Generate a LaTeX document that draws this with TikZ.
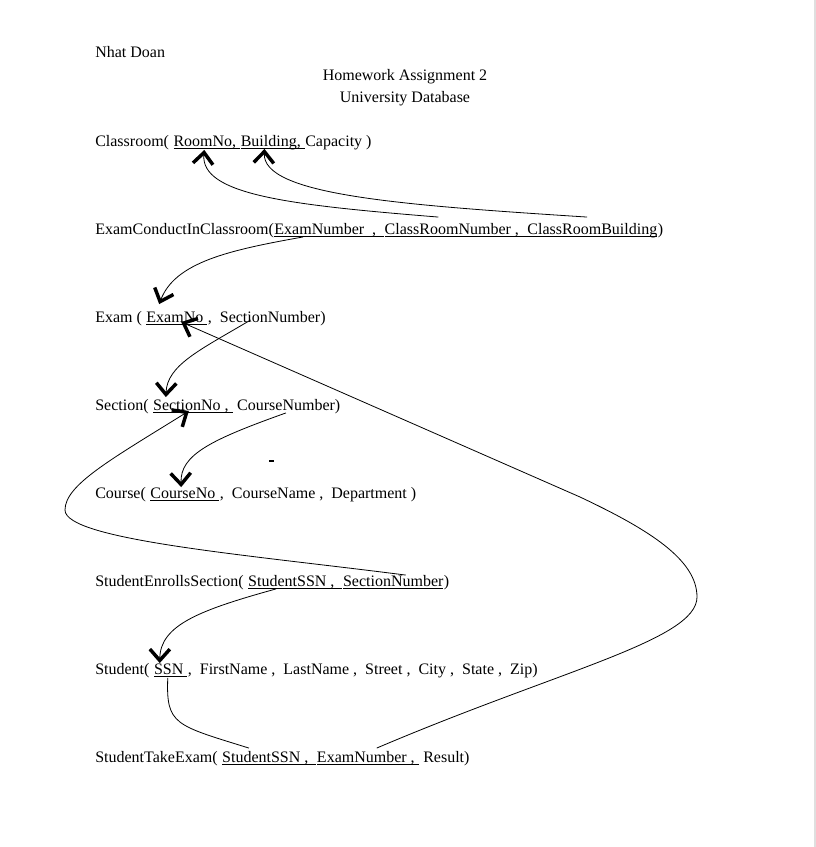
\documentclass[tikz,border=0pt]{standalone}
\usepackage{fontspec}
\setmainfont{Liberation Serif}
\usetikzlibrary{positioning,calc,arrows.meta}
\newcommand{\keyu}[1]{\underline{\raisebox{0pt}[\height][0pt]{#1}}}
\tikzset{
    node style rel/.style={inner sep=0pt,text height=8pt,text depth=2pt},
    arrow style fk/.style={-{Straight Barb[length=8.5pt,width=15pt,line width=2.6pt]},line width=0.6pt},
    line style fk/.style={line width=0.6pt},
}

\begin{document}
\begin{tikzpicture}[x=0.75pt,y=-0.75pt,font=\fontsize{12}{14}\selectfont]
\useasboundingbox (0,0) rectangle (816,847);
\draw[gray!25,line width=1.5pt] (814.5,0) -- (814.5,847);
% en-tete
\node[node style rel,anchor=base west] (author) at (95,57) {Nhat Doan};
\node[node style rel,anchor=base] (title) at (405,80) {Homework Assignment 2};
\node[node style rel,anchor=base] (subtitle) at (405,102) {University Database};
% les relations
\node[node style rel,anchor=base west] (classroom) at (95,146) {Classroom(~\null};
\node[node style rel,base right=0pt of classroom] (roomno) {\keyu{RoomNo,~}};
\node[node style rel,base right=0pt of roomno] (building) {\keyu{Building,~}};
\node[node style rel,base right=0pt of building] (capacity) {Capacity~)};

\node[node style rel,anchor=base west] (ecic) at (95,234) {ExamConductInClassroom(};
\node[node style rel,base right=0pt of ecic] (ecexam) {\keyu{ExamNumber~~,~~}};
\node[node style rel,base right=0pt of ecexam] (ecroom) {\keyu{ClassRoomNumber~,~~}};
\node[node style rel,base right=0pt of ecroom] (ecbldg) {\keyu{ClassRoomBuilding}};
\node[node style rel,base right=0pt of ecbldg] (ecend) {)};

\node[node style rel,anchor=base west] (exam) at (95,322) {Exam~(~\null};
\node[node style rel,base right=0pt of exam] (examno) {\keyu{ExamNo~}};
\node[node style rel,base right=0pt of examno] (examsec) {,~~SectionNumber)};

\node[node style rel,anchor=base west] (section) at (95,410) {Section(~\null};
\node[node style rel,base right=0pt of section] (secno) {\keyu{SectionNo~,~}};
\node[node style rel,base right=0pt of secno] (seccn) {~CourseNumber)};

\node[node style rel,anchor=base west] (course) at (95,498) {Course(~\null};
\node[node style rel,base right=0pt of course] (courseno) {\keyu{CourseNo~}};
\node[node style rel,base right=0pt of courseno] (coursert) {,~~CourseName~,~~Department~)};

\node[node style rel,anchor=base west] (ses) at (95,586) {StudentEnrollsSection(~\null};
\node[node style rel,base right=0pt of ses] (sesssn) {\keyu{StudentSSN~,~~}};
\node[node style rel,base right=0pt of sesssn] (sesnum) {\keyu{SectionNumber}};
\node[node style rel,base right=0pt of sesnum] (sesend) {)};

\node[node style rel,anchor=base west] (student) at (95,674) {Student(~\null};
\node[node style rel,base right=0pt of student] (ssn) {\keyu{SSN~}};
\node[node style rel,base right=0pt of ssn] (studentrt)
{,~~FirstName~,~~LastName~,~~Street~,~~City~,~~State~,~~Zip)};

\node[node style rel,anchor=base west] (ste) at (95,762) {StudentTakeExam(~\null};
\node[node style rel,base right=0pt of ste] (stessn) {\keyu{StudentSSN~,~~}};
\node[node style rel,base right=0pt of stessn] (steexam) {\keyu{ExamNumber~,~}};
\node[node style rel,base right=0pt of steexam] (sterst) {~Result)};
% les fleches
\draw[arrow style fk] ($(ecroom.north west)+(54,-6)$)
  .. controls (290,205) and (200,195) .. ($(roomno.south west)+(31,1)$);
\draw[arrow style fk] ($(ecbldg.north west)+(60,-6)$)
  .. controls (400,205) and (262,195) .. ($(building.south west)+(24,0)$);
\draw[arrow style fk] ($(ecexam.south west)+(29,0)$)
  .. controls (230,250) and (175,262) .. ($(examno.north west)+(13,-7)$);
\draw[arrow style fk] ($(examsec.base west)+(43,-2)$)
  .. controls (200,350) and (167,365) .. ($(secno.north west)+(13,-2)$);
\draw[arrow style fk] ($(seccn.south west)+(53,0)$)
  .. controls (210,440) and (180,455) .. ($(courseno.north west)+(31,0)$);
\draw[arrow style fk] ($(sesnum.north west)+(63,0)$)
  .. controls (250,555) and (65,540) .. (65,510)
  .. controls (65,485) and (110,460) .. ($(secno.base west)+(36,1)$);
\draw[arrow style fk] ($(sesssn.south west)+(28,0)$)
  .. controls (200,610) and (160,625) .. ($(ssn.north west)+(6,0)$);
\draw[arrow style fk] ($(steexam.north west)+(60,-3)$)
  .. controls (560,670) and (697,640) .. (697,597)
  .. controls (697,560) and (650,530) .. (580,497)
  -- ($(examno.base west)+(35,0)$);
\draw[line style fk] ($(ssn.south west)+(14,1)$)
  .. controls (166,725) and (175,725) .. ($(stessn.north west)+(27,-3)$);
% petite marque
\draw[line width=2pt] (269,461) -- (274,461);
\end{tikzpicture}
\end{document}
